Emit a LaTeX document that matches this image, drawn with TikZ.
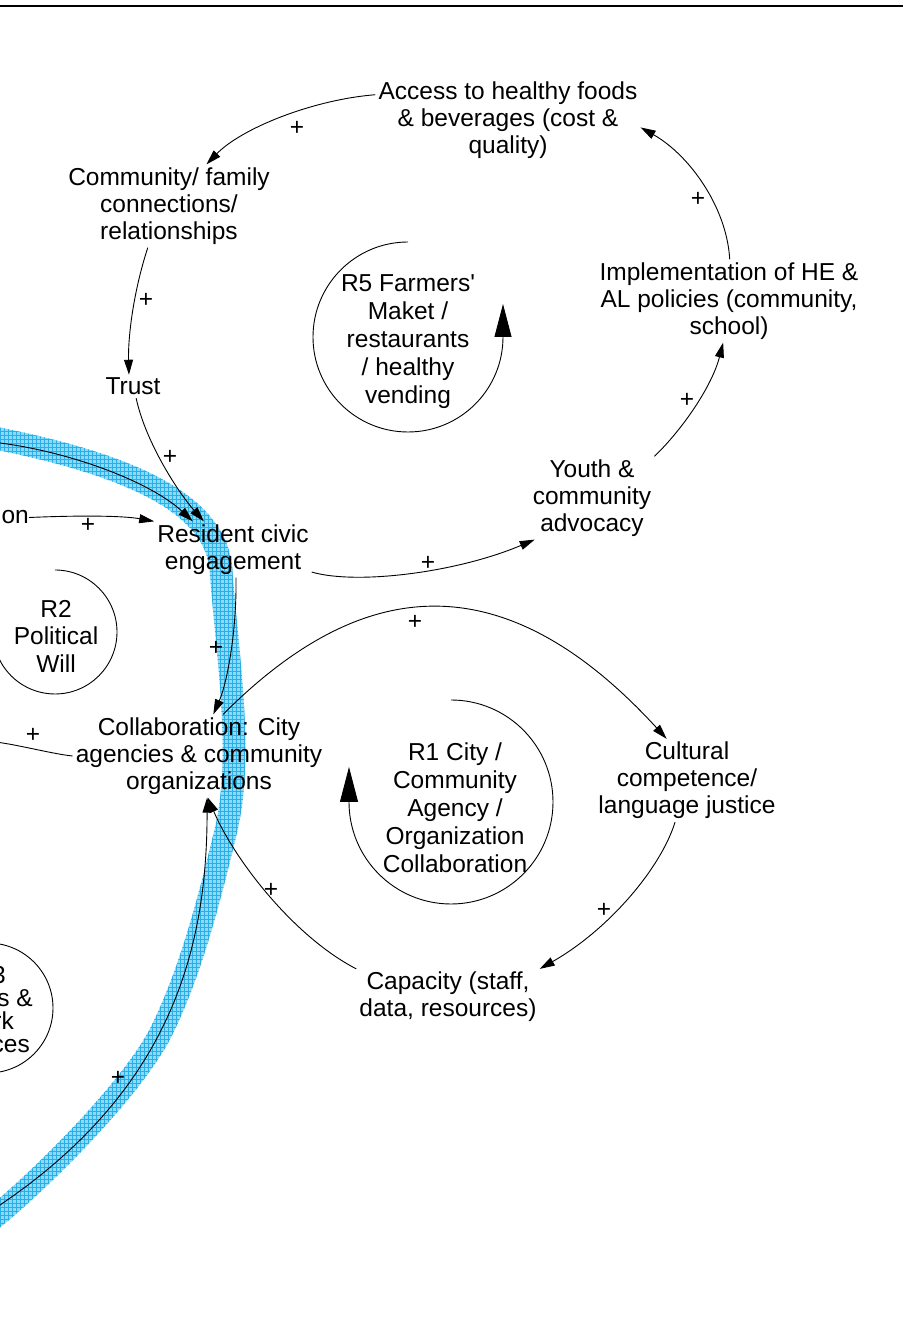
\documentclass[tikz,border=0pt]{standalone}
\usepackage{fontspec}
\setmainfont{Liberation Sans}
\usetikzlibrary{arrows.meta}
\definecolor{bandfill}{RGB}{140,218,247}
\definecolor{bandgrid}{RGB}{40,175,232}
\pgfmathdeclarefunction{bez}{5}{\pgfmathparse{(1-#1)^3*(#2)+3*(1-#1)^2*(#1)*(#3)+3*(1-#1)*(#1)^2*(#4)+(#1)^3*(#5)}}
\begin{document}
\begin{tikzpicture}[x=1pt,y=1pt,
  lbl/.style={font=\fontsize{24.5}{27}\selectfont, align=center, inner sep=3pt},
  looplbl/.style={font=\fontsize{24.5}{28}\selectfont, align=center, inner sep=3pt},
  frag/.style={font=\fontsize{24.5}{27}\selectfont, inner sep=0pt, anchor=base east},
  plus/.style={font=\fontsize{24.5}{27}\selectfont, inner sep=0pt},
  link/.style={line width=0.9pt, -{Triangle[length=15pt,width=9pt]}},
  plain/.style={line width=0.9pt},
  loopline/.style={line width=0.9pt},
  looptip/.style={line width=0.9pt, -{Triangle[length=33pt,width=17pt]}},
]
\useasboundingbox (0,0) rectangle (903,1331);
\clip (0,0) rectangle (903,1331);

% highlighted band
\begin{scope}
\clip foreach \t in {0,0.01,...,1} {({bez(\t,-15,120,216,221)},{bez(\t,895,869,831,761)}) circle[radius=11.5]}
      foreach \t in {0,0.01,...,1} {({bez(\t,221,227,244,226)},{bez(\t,761,677,576,501)}) circle[radius=11.5]}
      foreach \t in {0,0.01,...,1} {({bez(\t,226,209.8,191.4,162)},{bez(\t,501,433.5,361,301)}) circle[radius=11.5]}
      foreach \t in {0,0.01,...,1} {({bez(\t,162,132.6,33,-15)},{bez(\t,301,241,143.5,106)}) circle[radius=11.5]};
\fill[bandfill] (-20,80) rectangle (260,920);
\draw[bandgrid, line width=0.5pt] (-20,80) grid[step=4] (260,920);
\end{scope}

% top rule
\draw[line width=2.3pt] (0,1325.2) -- (903,1325.2);

% variables
\node[lbl] (access) at (508,1210.5) {Access to healthy foods\\\& beverages (cost \&\\quality)};
\node[lbl] (comm) at (169,1125) {Community/ family\\connections/\\relationships};
\node[lbl] (trust) at (133,944.5) {Trust};
\node[lbl] (resident) at (233,781.5) {Resident civic\\engagement};
\node[lbl] (youth) at (592,833) {Youth \&\\community\\advocacy};
\node[lbl] (impl) at (729,1030) {Implementation of HE \&\\AL policies (community,\\school)};
\node[lbl] (collab) at (199,575) {Collaboration: City\\agencies \& community\\organizations};
\node[lbl] (cultural) at (687,550.5) {Cultural\\competence/\\language justice};
\node[lbl] (capacity) at (448,334) {Capacity (staff,\\data, resources)};
\node[frag] (on) at (29,807) {on};

% loop labels
\node[looplbl] (r5) at (408,989) {R5 Farmers\textquotesingle\\Maket /\\restaurants\\/ healthy\\vending};
\node[looplbl] (r1) at (455,523.5) {R1 City /\\Community\\Agency /\\Organization\\Collaboration};
\node[lbl, font=\fontsize{24.5}{27.5}\selectfont] (r2) at (56,695) {R2\\Political\\Will};
\node[frag] (r3a) at (6,347) {3};
\node[frag] (r3b) at (33,324) {s \&};
\node[frag] (r3c) at (14,301) {rk};
\node[frag] (r3d) at (30,278) {ces};

% loop markers
\draw[looptip] (408,1089) arc[start angle=90, end angle=360, radius=95] -- ++(0,33);
\draw[looptip, -{Triangle[length=35pt,width=18pt]}] (451,631) arc[start angle=90, end angle=-180, radius=102] -- ++(0,35);
\draw[loopline] (55,761) arc[start angle=90, end angle=-190, radius=62];
\draw[loopline] (-12,388) arc[start angle=90, end angle=-270, radius=65];

% free ends
\coordinate (bandA) at (0,888);
\coordinate (bandB) at (0,126);
\coordinate (offL) at (-5,589);

% links
\draw[link] (access.169) .. controls +(-63,-5) and +(35,36) .. (comm.48);
\draw[link] (comm.243) .. controls +(-15,-46) and +(-1,36) .. (trust.109);
\draw[link] (trust.285) .. controls +(10,-46) and +(-24,27) .. (resident.136);
\draw[link] (bandA) .. controls +(70,-9) and +(-43,40) .. (resident.145);
\draw[link] (on.east) .. controls +(44,2) and +(-33,6) .. (resident.north west);
\draw[link] (resident.276) .. controls +(1,-52) and +(14,32) .. (collab.71);
\draw[link] (collab.60) .. controls +(116,116) and +(-183,200) .. (cultural.116);
\draw[link] (cultural.254) .. controls +(-15,-48) and +(67,38) .. (capacity.north east);
\draw[link] (capacity.north west) .. controls +(-62,32) and +(27,-63) .. (collab.282);
\draw[link] (bandB) .. controls +(170,115) and +(0,-153) .. (collab.281);
\draw[plain] (collab.west) .. controls +(-20,2) and +(20,-2) .. (offL);
\draw[link] (resident.344) .. controls +(45,-13) and +(-78,-33) .. (youth.216);
\draw[link] (youth.north east) .. controls +(29,28) and +(-11,-43) .. (impl.262);
\draw[link] (impl.89) .. controls +(-3,53) and +(48,-27) .. (access.357);

% polarities
\node[plus] (pac) at (297,1203) {+};
\node[plus] (pct) at (146,1031) {+};
\node[plus] (ptr) at (170,874) {+};
\node[plus] (pon) at (88,806) {+};
\node[plus] (prc) at (216,683) {+};
\node[plus] (pcc) at (415,709) {+};
\node[plus] (pcu) at (604,421) {+};
\node[plus] (pca) at (271,441) {+};
\node[plus] (pband) at (118,253) {+};
\node[plus] (pleft) at (33,596) {+};
\node[plus] (pry) at (428,768) {+};
\node[plus] (pyi) at (687,931) {+};
\node[plus] (pia) at (698,1132) {+};
\end{tikzpicture}
\end{document}
